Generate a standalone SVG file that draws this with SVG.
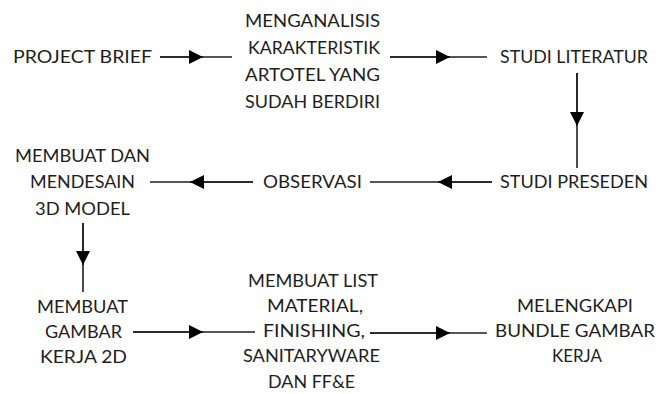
<svg xmlns="http://www.w3.org/2000/svg" width="659" height="394" viewBox="0 0 659 394">
<style>
text{font-family:Lato,"Liberation Sans",sans-serif;font-size:17.5px;fill:#1e1e1e;text-anchor:middle}
.c line{stroke:#1e1e1e;stroke-width:1.6}
</style>
<defs>
<marker id="ah" viewBox="0 0 14 14" refX="14" refY="7" markerWidth="14" markerHeight="14" markerUnits="userSpaceOnUse" orient="auto"><path d="M0,0 L14,7 L0,14 Z" fill="#000"/></marker>
</defs>
<rect width="659" height="394" fill="#fff"/>
<g class="c">
<line x1="160" y1="57" x2="232" y2="57"/><line x1="160" y1="57" x2="203" y2="57" marker-end="url(#ah)"/>
<line x1="390" y1="57" x2="487" y2="57"/><line x1="390" y1="57" x2="450" y2="57" marker-end="url(#ah)"/>
<line x1="577" y1="73" x2="577" y2="168"/><line x1="577" y1="73" x2="577" y2="126" marker-end="url(#ah)"/>
<line x1="492" y1="182" x2="370" y2="182"/><line x1="492" y1="182" x2="438" y2="182" marker-end="url(#ah)"/>
<line x1="253" y1="182" x2="150" y2="182"/><line x1="253" y1="182" x2="190" y2="182" marker-end="url(#ah)"/>
<line x1="83" y1="223" x2="83" y2="292"/><line x1="83" y1="223" x2="83" y2="265" marker-end="url(#ah)"/>
<line x1="133" y1="332" x2="255" y2="332"/><line x1="133" y1="332" x2="203" y2="332" marker-end="url(#ah)"/>
<line x1="370" y1="333" x2="487" y2="333"/><line x1="370" y1="333" x2="450" y2="333" marker-end="url(#ah)"/>
</g>
<g id="n1"><text x="82.5" y="63" textLength="139" lengthAdjust="spacingAndGlyphs">PROJECT BRIEF</text></g>
<g id="n2">
<text x="312.5" y="27" textLength="135" lengthAdjust="spacingAndGlyphs">MENGANALISIS</text>
<text x="314" y="54" textLength="132" lengthAdjust="spacingAndGlyphs">KARAKTERISTIK</text>
<text x="312.5" y="81" textLength="135" lengthAdjust="spacingAndGlyphs">ARTOTEL YANG</text>
<text x="312.5" y="108" textLength="135" lengthAdjust="spacingAndGlyphs">SUDAH BERDIRI</text>
</g>
<g id="n3"><text x="574" y="63" textLength="148" lengthAdjust="spacingAndGlyphs">STUDI LITERATUR</text></g>
<g id="n4"><text x="574" y="188" textLength="148" lengthAdjust="spacingAndGlyphs">STUDI PRESEDEN</text></g>
<g id="n5"><text x="312.5" y="188" textLength="99" lengthAdjust="spacingAndGlyphs">OBSERVASI</text></g>
<g id="n6">
<text x="82.5" y="162" textLength="135" lengthAdjust="spacingAndGlyphs">MEMBUAT DAN</text>
<text x="82.5" y="188" textLength="105" lengthAdjust="spacingAndGlyphs">MENDESAIN</text>
<text x="82.5" y="215" textLength="95" lengthAdjust="spacingAndGlyphs">3D MODEL</text>
</g>
<g id="n7">
<text x="82.5" y="313" textLength="91" lengthAdjust="spacingAndGlyphs">MEMBUAT</text>
<text x="83.5" y="338" textLength="77" lengthAdjust="spacingAndGlyphs">GAMBAR</text>
<text x="83.5" y="363" textLength="87" lengthAdjust="spacingAndGlyphs">KERJA 2D</text>
</g>
<g id="n8">
<text x="313" y="287" textLength="130" lengthAdjust="spacingAndGlyphs">MEMBUAT LIST</text>
<text x="315" y="312" textLength="96" lengthAdjust="spacingAndGlyphs">MATERIAL,</text>
<text x="314" y="337" textLength="102" lengthAdjust="spacingAndGlyphs">FINISHING,</text>
<text x="311.5" y="362" textLength="137" lengthAdjust="spacingAndGlyphs">SANITARYWARE</text>
<text x="311.5" y="388" textLength="87" lengthAdjust="spacingAndGlyphs">DAN FF&amp;E</text>
</g>
<g id="n9">
<text x="575" y="312" textLength="116" lengthAdjust="spacingAndGlyphs">MELENGKAPI</text>
<text x="575" y="337" textLength="160" lengthAdjust="spacingAndGlyphs">BUNDLE GAMBAR</text>
<text x="577" y="362" textLength="50" lengthAdjust="spacingAndGlyphs">KERJA</text>
</g>
</svg>
